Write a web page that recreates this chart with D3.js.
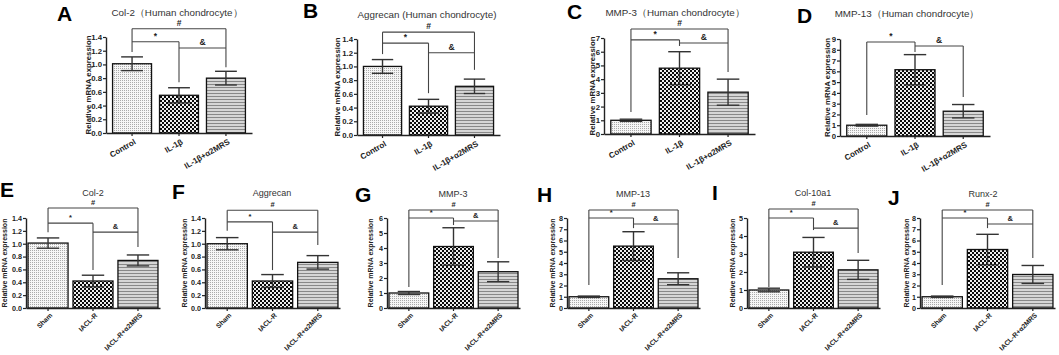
<!DOCTYPE html>
<html lang="en">
<head>
<meta charset="UTF-8">
<title>mRNA expression panels</title>
<script src="https://cdn.jsdelivr.net/npm/d3@7"></script>
<style>
    body { margin: 0; background: #fff; }
    svg { display: block; font-family: Arial, "Liberation Sans", sans-serif; }
</style>
</head>
<body>
<svg id="svg" width="1059" height="355"></svg>
<script>
    // group names
    const topGroups = ["Control", "IL-1β", "IL-1β+α2MRS"];
    const bottomGroups = ["Sham", "IACL-R", "IACL-R+α2MRS"];

    // means and error bars
    const meanA = [1.01, 0.55, 0.80], errA = [0.10, 0.11, 0.10];
    const meanB = [1.00, 0.42, 0.71], errB = [0.10, 0.10, 0.105];
    const meanC = [1.00, 4.80, 3.05], errC = [0.08, 1.20, 0.95];
    const meanD = [1.00, 6.15, 2.30], errD = [0.08, 1.40, 0.62];
    const meanE = [1.01, 0.42, 0.74], errE = [0.08, 0.09, 0.085];
    const meanF = [1.00, 0.42, 0.71], errF = [0.095, 0.10, 0.105];
    const meanG = [1.00, 4.10, 2.42], errG = [0.10, 1.25, 0.66];
    const meanH = [1.00, 5.50, 2.60], errH = [0.06, 1.28, 0.53];
    const meanI = [1.00, 3.10, 2.12], errI = [0.10, 0.82, 0.53];
    const meanJ = [1.00, 5.20, 2.98], errJ = [0.06, 1.35, 0.80];

    // y-axis maxima / tick steps
    const yMax = { A: 1.4, B: 1.4, C: 7, D: 9, E: 1.4, F: 1.4, G: 6, H: 8, I: 5, J: 8 };
    const yStep = { A: 0.2, B: 0.2, C: 1, D: 1, E: 0.2, F: 0.2, G: 1, H: 1, I: 1, J: 1 };

    const titles = {
        A: "Col-2（Human chondrocyte）",
        B: "Aggrecan (Human chondrocyte)",
        C: "MMP-3（Human chondrocyte）",
        D: "MMP-13（Human chondrocyte）",
        E: "Col-2", F: "Aggrecan", G: "MMP-3", H: "MMP-13", I: "Col-10a1", J: "Runx-2"
    };

    const svg = d3.select("#svg");
    svg.append("rect").attr("width", 1059).attr("height", 355).attr("fill", "#fff");

    // fill patterns
    const defs = svg.append("defs");
    const dots = defs.append("pattern").attr("id", "dots")
        .attr("patternUnits", "userSpaceOnUse").attr("width", 2).attr("height", 2);
    dots.append("rect").attr("width", 2).attr("height", 2).attr("fill", "#f6f6f6");
    dots.append("rect").attr("width", 1).attr("height", 1).attr("fill", "#aaa");

    const checker = defs.append("pattern").attr("id", "checker")
        .attr("patternUnits", "userSpaceOnUse").attr("width", 4).attr("height", 4);
    checker.append("rect").attr("width", 4).attr("height", 4).attr("fill", "#eee");
    checker.append("rect").attr("width", 2).attr("height", 2).attr("fill", "#0a0a0a");
    checker.append("rect").attr("x", 2).attr("y", 2).attr("width", 2).attr("height", 2).attr("fill", "#0a0a0a");

    const hlines = defs.append("pattern").attr("id", "hlines")
        .attr("patternUnits", "userSpaceOnUse").attr("width", 3).attr("height", 3);
    hlines.append("rect").attr("width", 3).attr("height", 3).attr("fill", "#d6d6d6");
    hlines.append("rect").attr("width", 3).attr("height", 1).attr("fill", "#888");

    const fills = ["url(#dots)", "url(#checker)", "url(#hlines)"];

    // panel placement; brackets are in data units: [#, *, &, leg0, leg1, leg2]
    const panels = [
        { id: "A", mean: meanA, err: errA, groups: topGroups, left: 106, right: 252, y0: 133, yTop: 37,
          letter: [57, 21], title: [177, 16], yTitleDx: 18, br: [1.52, 1.33, 1.24, 1.18, 0.74, 0.96] },
        { id: "B", mean: meanB, err: errB, groups: topGroups, left: 357, right: 500, y0: 135, yTop: 39,
          letter: [303, 18], title: [427, 18], yTitleDx: 20, br: [1.50, 1.34, 1.20, 1.18, 0.61, 0.95] },
        { id: "C", mean: meanC, err: errC, groups: topGroups, left: 604, right: 755, y0: 134, yTop: 38,
          letter: [567, 19], title: [675, 16], yTitleDx: 12, br: [7.66, 6.86, 6.64, 1.6, 6.42, 4.52] },
        { id: "D", mean: meanD, err: errD, groups: topGroups, left: 840, right: 990, y0: 136, yTop: 39,
          letter: [797, 23], title: [907, 17], yTitleDx: 13, br: [null, 8.72, 8.35, 1.95, 7.8, 3.62] },
        { id: "E", mean: meanE, err: errE, groups: bottomGroups, left: 26, right: 160, y0: 308, yTop: 218,
          letter: [0, 197], title: [93, 196], yTitleDx: 21, br: [1.555, 1.32, 1.18, 1.18, 0.59, 0.95] },
        { id: "F", mean: meanF, err: errF, groups: bottomGroups, left: 205, right: 340, y0: 308, yTop: 218,
          letter: [172, 199], title: [272, 196], yTitleDx: 20, br: [1.52, 1.34, 1.18, 1.2, 0.59, 0.98] },
        { id: "G", mean: meanG, err: errG, groups: bottomGroups, left: 387, right: 520, y0: 308, yTop: 218,
          letter: [355, 202], title: [453, 197], yTitleDx: 16, br: [6.53, 6.0, 5.8, 1.4, 5.53, 3.33] },
        { id: "H", mean: meanH, err: errH, groups: bottomGroups, left: 567, right: 700, y0: 308, yTop: 218,
          letter: [537, 202], title: [633, 197], yTitleDx: 14, br: [8.71, 8.0, 7.47, 2.04, 7.1, 4.44] },
        { id: "I", mean: meanI, err: errI, groups: bottomGroups, left: 747, right: 880, y0: 308, yTop: 218,
          letter: [712, 200], title: [813, 196], yTitleDx: 14, br: [5.5, 5.0, 4.44, 1.17, 4.33, 3.06] },
        { id: "J", mean: meanJ, err: errJ, groups: bottomGroups, left: 920, right: 1055, y0: 308, yTop: 218,
          letter: [888, 205], title: [983, 197], yTitleDx: 13, br: [8.71, 8.0, 7.47, 2.04, 7.1, 4.44] }
    ];

    panels.forEach(p => {
        const top = p.groups === topGroups;
        const g = svg.append("g");

        const x = d3.scaleBand().domain(p.groups).range([p.left, p.right])
            .paddingInner(top ? 0.17 : 0.11).paddingOuter(top ? 0.14 : 0.045);
        const y = d3.scaleLinear().domain([0, yMax[p.id]]).range([p.y0, p.yTop]);
        const ticks = d3.range(0, yMax[p.id] + yStep[p.id] / 2, yStep[p.id]);

        // letter + title
        g.append("text").attr("x", p.letter[0]).attr("y", p.letter[1])
            .attr("font-size", 21).attr("font-weight", "bold").attr("fill", "#000").text(p.id);
        g.append("text").attr("x", p.title[0]).attr("y", p.title[1])
            .attr("text-anchor", "middle").attr("font-size", top ? 9.8 : 9).attr("fill", "#333")
            .text(titles[p.id]);

        // bars
        g.selectAll(".bar").data(p.mean).join("rect")
            .attr("x", (d, i) => x(p.groups[i]))
            .attr("y", d => y(d))
            .attr("width", x.bandwidth())
            .attr("height", d => y(0) - y(d))
            .attr("fill", (d, i) => fills[i])
            .attr("stroke", "#111").attr("stroke-width", 1.3);

        // error bars
        const cap = x.bandwidth() * 0.28;
        p.mean.forEach((m, i) => {
            const cx = x(p.groups[i]) + x.bandwidth() / 2;
            const e = p.err[i];
            const eg = g.append("g").attr("stroke", "#333").attr("stroke-width", 1.4);
            eg.append("line").attr("x1", cx).attr("x2", cx).attr("y1", y(m - e)).attr("y2", y(m + e));
            eg.append("line").attr("x1", cx - cap).attr("x2", cx + cap).attr("y1", y(m + e)).attr("y2", y(m + e));
            eg.append("line").attr("x1", cx - cap).attr("x2", cx + cap).attr("y1", y(m - e)).attr("y2", y(m - e));
        });

        // axes
        const yAxis = g.append("g").attr("transform", `translate(${p.left},0)`)
            .call(d3.axisLeft(y).tickValues(ticks).tickSize(3).tickSizeOuter(0)
                .tickFormat(yStep[p.id] < 1 ? d3.format(".1f") : d3.format("d")));
        const xAxis = g.append("g").attr("transform", `translate(0,${p.y0})`)
            .call(d3.axisBottom(x).tickSize(3).tickSizeOuter(0));
        [yAxis, xAxis].forEach(a => {
            a.select(".domain").attr("stroke", "#222").attr("stroke-width", 1.4);
            a.selectAll(".tick line").attr("stroke", "#222").attr("stroke-width", 1.2);
            a.selectAll("text").attr("font-family", null).attr("fill", "#222")
                .attr("font-weight", "bold");
        });
        yAxis.selectAll("text").attr("font-size", top ? 7.8 : 7.2).attr("x", -4);
        xAxis.selectAll("text")
            .attr("font-size", top ? 8 : 6.8)
            .attr("text-anchor", "end")
            .attr("x", 0).attr("y", 0).attr("dy", "0.35em")
            .attr("transform", top ? "translate(3,8) rotate(-30)" : "translate(3,6) rotate(-45)");

        // y title
        const yMid = (p.y0 + p.yTop) / 2;
        g.append("text")
            .attr("transform", `translate(${p.left - p.yTitleDx},${yMid}) rotate(-90)`)
            .attr("text-anchor", "middle").attr("dy", "0.35em")
            .attr("font-size", top ? 7.8 : 7).attr("font-weight", "bold").attr("fill", "#222")
            .text("Relative mRNA expression");

        // significance brackets
        const [hHash, hStar, hAmp, leg0, leg1, leg2] = p.br;
        const cx = p.groups.map(c => x(c) + x.bandwidth() / 2);
        const bl = g.append("g").attr("stroke", "#444").attr("stroke-width", 1.1).attr("fill", "none");
        const seg = (x1, y1, x2, y2) => bl.append("line")
            .attr("x1", x1).attr("y1", y(y1)).attr("x2", x2).attr("y2", y(y2));
        const topLeft = hHash != null ? hHash : hStar;
        const topRight = hHash != null ? hHash : hAmp;
        seg(cx[0], leg0, cx[0], topLeft);
        if (hHash != null) seg(cx[0], hHash, cx[2], hHash);
        seg(cx[0], hStar, cx[1], hStar);
        seg(cx[1], hStar, cx[1], leg1);
        seg(cx[1], hAmp, cx[2], hAmp);
        seg(cx[2], topRight, cx[2], leg2);

        const mark = (sym, xm, h) => g.append("text")
            .attr("x", xm).attr("y", y(h) - 3).attr("text-anchor", "middle")
            .attr("font-size", top ? 8.5 : 7.5).attr("font-weight", "bold").attr("fill", "#222").text(sym);
        if (hHash != null) mark("#", (cx[0] + cx[2]) / 2, hHash);
        mark("*", (cx[0] + cx[1]) / 2, hStar);
        mark("&", (cx[1] + cx[2]) / 2, hAmp);
    });
</script>
</body>
</html>
